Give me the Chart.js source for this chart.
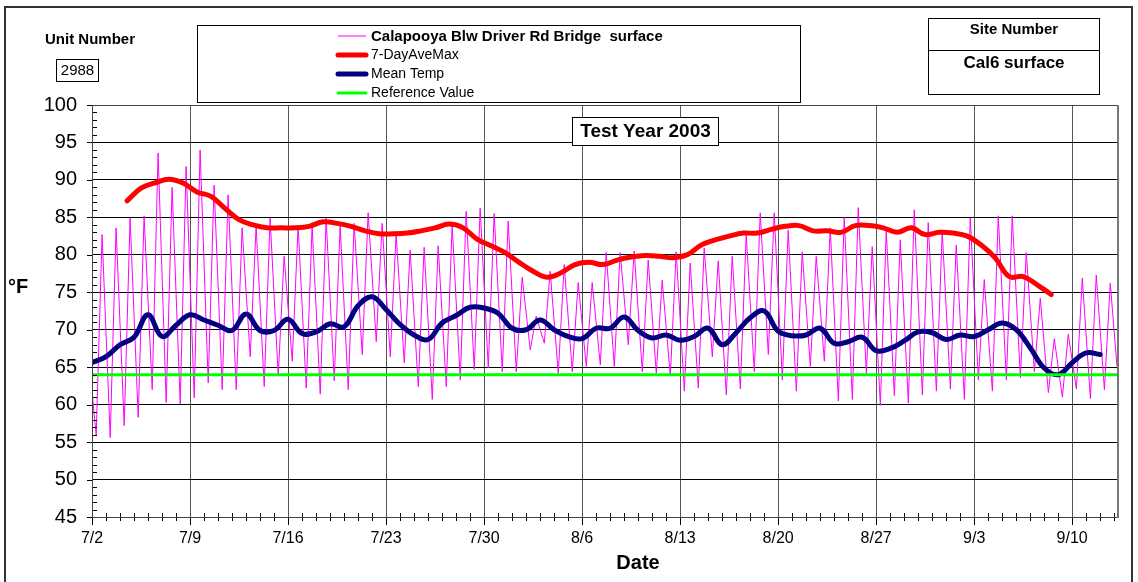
<!DOCTYPE html>
<html>
<head>
<meta charset="utf-8">
<script src="https://cdn.jsdelivr.net/npm/chart.js@4.4.1/dist/chart.umd.min.js"></script>
<style>
  html, body { margin: 0; padding: 0; background: #fff; }
  canvas { display: block; }
</style>
</head>
<body>
<canvas id="tempChart" width="1138" height="582"></canvas>
<script>
// x values are days since 7/2/2003
const weekLabels = ['7/2', '7/9', '7/16', '7/23', '7/30', '8/6', '8/13', '8/20', '8/27', '9/3', '9/10'];
const lastDay = 73.2;

// hourly record, reduced to the daily low (early morning) and high (late afternoon)
const firstReading = 61.8;
const lastReading = 65.1;
const minTime = 0.3;
const maxTime = 0.72;
const dailyMin = [55.9, 55.6, 57.2, 58.3, 62.0, 60.3, 60.1, 60.9, 62.9, 62.0,
  62.0, 66.4, 62.4, 63.8, 65.8, 62.2, 61.4, 63.2, 62.0, 66.7,
  68.4, 66.4, 65.6, 62.4, 60.7, 62.4, 63.3, 64.7, 64.9, 64.4,
  64.4, 67.3, 68.2, 64.2, 64.4, 65.1, 65.3, 65.1, 68.0, 64.4,
  64.2, 63.8, 61.8, 62.2, 66.4, 61.3, 62.1, 64.4, 66.7, 63.3,
  61.8, 65.1, 65.8, 60.5, 60.7, 64.2, 59.9, 61.2, 60.2, 61.3,
  61.8, 62.1, 60.7, 63.3, 61.8, 63.3, 63.6, 64.4, 61.6, 61.0,
  62.1, 60.8, 62.0];
const dailyMax = [82.7, 83.6, 84.9, 85.2, 93.6, 89.0, 91.8, 94.0, 89.3, 88.0,
  83.6, 83.9, 84.9, 79.8, 83.9, 83.9, 84.9, 83.9, 84.2, 85.6,
  84.2, 82.7, 80.6, 81.0, 81.2, 84.0, 85.8, 86.2, 85.5, 84.5,
  77.0, 71.8, 77.8, 78.7, 76.3, 76.3, 80.3, 80.3, 80.5, 79.3,
  76.6, 80.4, 78.9, 80.9, 79.2, 79.8, 82.7, 85.6, 85.6, 83.3,
  80.4, 79.8, 83.6, 85.0, 86.3, 81.1, 83.3, 82.0, 86.0, 84.3,
  83.1, 81.3, 84.9, 76.7, 85.2, 85.2, 80.3, 74.2, 68.8, 69.4,
  76.9, 77.3, 76.2];

// daily mean, one per day from day 0
const meanTemp = [65.6, 66.4, 68.0, 69.0, 72.0, 69.1, 70.6, 72.0, 71.3, 70.6,
  69.9, 72.1, 69.9, 69.9, 71.4, 69.5, 69.7, 70.8, 70.4, 73.2,
  74.4, 72.7, 70.7, 69.3, 68.7, 70.9, 71.9, 73.0, 72.9, 72.2,
  70.2, 70.0, 71.3, 70.0, 69.1, 68.8, 70.2, 70.2, 71.7, 69.9,
  68.9, 69.3, 68.6, 69.1, 70.2, 68.0, 69.6, 71.6, 72.5, 69.8,
  69.2, 69.3, 70.2, 68.2, 68.4, 69.0, 67.2, 67.5, 68.5, 69.7,
  69.6, 68.7, 69.3, 69.1, 70.0, 70.9, 70.0, 67.6, 64.9, 64.0,
  65.6, 66.9, 66.7];

// 7-day average of daily maxima, starting at day 2.5
const aveMaxStart = 2.5;
const sevenDayAveMax = [87.2, 88.9, 89.6, 90.1, 89.6, 88.4, 87.8, 86.2, 84.7, 84.0,
  83.6, 83.6, 83.6, 83.8, 84.4, 84.2, 83.8, 83.2, 82.8, 82.8,
  82.9, 83.2, 83.6, 84.1, 83.6, 82.1, 81.2, 80.3, 79.0, 77.8,
  77.0, 77.6, 78.7, 79.0, 78.7, 79.3, 79.7, 79.9, 79.8, 79.6,
  80.0, 81.3, 82.0, 82.5, 82.9, 82.9, 83.4, 83.8, 83.9, 83.2,
  83.2, 83.0, 83.9, 83.9, 83.6, 83.0, 83.6, 82.7, 83.0, 82.9,
  82.5, 81.3, 79.6, 77.1, 77.1, 76.0, 74.7];

const referenceValue = 64;

const seriesNames = ['Calapooya Blw Driver Rd Bridge  surface', '7-DayAveMax', 'Mean Temp', 'Reference Value'];
const seriesColors = ['#FF00FF', '#FF0000', '#000080', '#00FF00'];

const hourlyPoints = [{x: 0, y: firstReading}];
dailyMin.forEach((v, d) => {
    hourlyPoints.push({x: d + minTime, y: v});
    hourlyPoints.push({x: d + maxTime, y: dailyMax[d]});
});
hourlyPoints.push({x: lastDay, y: lastReading});

const aveMaxPoints = sevenDayAveMax.map((v, i) => ({x: aveMaxStart + i, y: v}));
const meanPoints = meanTemp.map((v, i) => ({x: i, y: v}));
const refPoints = [{x: 0, y: referenceValue}, {x: lastDay, y: referenceValue}];

const sheetDecor = {
    id: 'sheetDecor',
    beforeDraw(chart) {
        const {ctx} = chart;
        ctx.save();
        ctx.fillStyle = '#fff';
        ctx.fillRect(0, 0, chart.width, chart.height);
        ctx.restore();
    },
    afterDraw(chart) {
        const {ctx, chartArea: a, scales: {x, y}} = chart;
        ctx.save();

        // axis ticks
        ctx.strokeStyle = '#000';
        ctx.lineWidth = 1;
        ctx.beginPath();
        for (let d = 0; d <= Math.floor(lastDay); d++) {
            const px = Math.round(x.getPixelForValue(d)) + 0.5;
            if (d % 7 === 0) { ctx.moveTo(px, a.bottom); ctx.lineTo(px, a.bottom + 8); }
            else { ctx.moveTo(px, a.bottom - 4); ctx.lineTo(px, a.bottom + 4); }
        }
        for (let v = 45; v <= 100; v++) {
            const py = Math.round(y.getPixelForValue(v)) + 0.5;
            if (v % 5 === 0) { ctx.moveTo(a.left - 5, py); ctx.lineTo(a.left, py); }
            else { ctx.moveTo(a.left, py); ctx.lineTo(a.left + 5, py); }
        }
        ctx.stroke();

        // plot frame
        ctx.strokeStyle = '#444';
        ctx.strokeRect(a.left + 0.5, a.top + 0.5, a.right - a.left, a.bottom - a.top);
        ctx.strokeStyle = '#777';
        ctx.lineWidth = 2;
        ctx.beginPath(); ctx.moveTo(a.right + 1, a.top); ctx.lineTo(a.right + 1, a.bottom + 1); ctx.stroke();

        // outer border
        ctx.strokeStyle = '#333';
        ctx.lineWidth = 2;
        ctx.strokeRect(5, 7, 1127, 590);

        ctx.fillStyle = '#000';
        ctx.strokeStyle = '#000';
        ctx.lineWidth = 1;
        ctx.textBaseline = 'middle';

        // unit number
        ctx.textAlign = 'center';
        ctx.font = 'bold 15px Arial, "Liberation Sans"';
        ctx.fillText('Unit Number', 90, 40);
        ctx.strokeRect(56.5, 59.5, 42, 22);
        ctx.font = '15px Arial, "Liberation Sans"';
        ctx.fillText('2988', 77.5, 71);

        // legend box
        ctx.strokeRect(197.5, 25.5, 603, 77);
        const rowY = [36, 55, 74, 93];
        const widths = [1, 5, 5, 3];
        rowY.forEach((ry, i) => {
            ctx.strokeStyle = seriesColors[i];
            ctx.lineWidth = widths[i];
            ctx.lineCap = i === 0 ? 'butt' : 'round';
            ctx.beginPath(); ctx.moveTo(338, ry); ctx.lineTo(366, ry); ctx.stroke();
            ctx.textAlign = 'left';
            ctx.font = i === 0 ? 'bold 15px Arial, "Liberation Sans"' : '14px Arial, "Liberation Sans"';
            ctx.fillText(seriesNames[i], 371, ry + 0.5);
        });
        ctx.lineCap = 'butt';

        // site box
        ctx.strokeStyle = '#000';
        ctx.lineWidth = 1;
        ctx.strokeRect(928.5, 18.5, 171, 76);
        ctx.beginPath(); ctx.moveTo(928, 50.5); ctx.lineTo(1100, 50.5); ctx.stroke();
        ctx.textAlign = 'center';
        ctx.font = 'bold 15px Arial, "Liberation Sans"';
        ctx.fillText('Site Number', 1014, 30);
        ctx.font = 'bold 17px Arial, "Liberation Sans"';
        ctx.fillText('Cal6 surface', 1014, 63);

        // test year label
        ctx.fillStyle = '#fff';
        ctx.fillRect(572.5, 117.5, 146, 28);
        ctx.strokeRect(572.5, 117.5, 146, 28);
        ctx.fillStyle = '#000';
        ctx.font = 'bold 19px Arial, "Liberation Sans"';
        ctx.fillText('Test Year 2003', 645.5, 132);

        // axis titles
        ctx.font = 'bold 20px Arial, "Liberation Sans"';
        ctx.fillText('Date', 638, 563);
        ctx.textAlign = 'left';
        ctx.fillText('°F', 8, 287);

        ctx.restore();
    }
};

new Chart(document.getElementById('tempChart'), {
    type: 'line',
    data: {
        datasets: [
            { label: seriesNames[0], data: hourlyPoints, borderColor: seriesColors[0], borderWidth: 1, pointRadius: 0, tension: 0, order: 3 },
            { label: seriesNames[1], data: aveMaxPoints, borderColor: seriesColors[1], borderWidth: 5, pointRadius: 0, tension: 0.4, borderCapStyle: 'round', order: 2 },
            { label: seriesNames[2], data: meanPoints, borderColor: seriesColors[2], borderWidth: 5, pointRadius: 0, tension: 0.4, borderCapStyle: 'round', order: 1 },
            { label: seriesNames[3], data: refPoints, borderColor: seriesColors[3], borderWidth: 3, pointRadius: 0, order: 0 }
        ]
    },
    plugins: [sheetDecor],
    options: {
        responsive: false, animation: false, devicePixelRatio: 1,
        layout: { padding: { top: 105, right: 21, left: 0, bottom: 0 } },
        plugins: { legend: { display: false }, tooltip: { enabled: false } },
        scales: {
            x: {
                type: 'linear', min: 0, max: lastDay,
                afterBuildTicks: (s) => { s.ticks = weekLabels.map((_, i) => ({ value: i * 7 })); },
                afterFit: (s) => { s.height = 65; },
                ticks: { callback: (v, i) => weekLabels[i], autoSkip: false, maxRotation: 0, padding: 12, color: '#000', font: { family: 'Arial, "Liberation Sans"', size: 16 } },
                grid: { color: '#555', drawTicks: false },
                border: { color: '#000' }
            },
            y: {
                min: 45, max: 100,
                afterFit: (s) => { s.width = 92; },
                ticks: { stepSize: 5, padding: 15, color: '#000', font: { family: 'Arial, "Liberation Sans"', size: 20 } },
                grid: { color: '#000', drawTicks: false },
                border: { color: '#000' }
            }
        }
    }
});
</script>
</body>
</html>
